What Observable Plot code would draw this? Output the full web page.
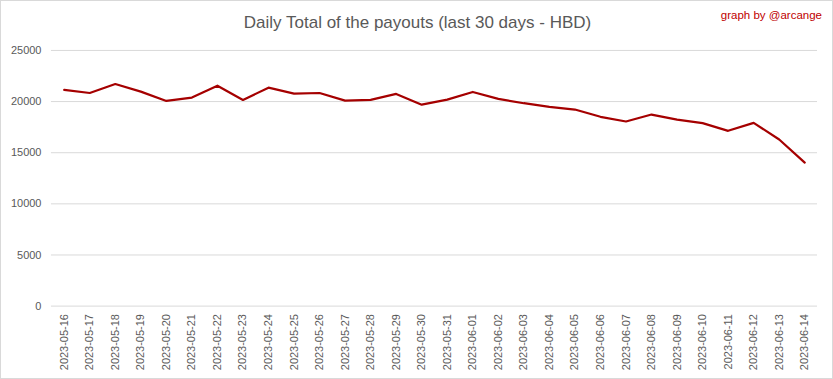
<!DOCTYPE html>
<html>
<head>
<meta charset="utf-8">
<script src="https://cdn.jsdelivr.net/npm/d3@7"></script>
<script src="https://cdn.jsdelivr.net/npm/@observablehq/plot@0.6"></script>
<style>
  html, body { margin: 0; padding: 0; background: #fff; }
  #wrap { position: relative; width: 833px; height: 379px; box-sizing: border-box; border: 1px solid #d9d9d9; overflow: hidden; }
  #title { position: absolute; left: 0; width: 833px; top: 12px; text-align: center; font-family: "Liberation Sans", sans-serif; font-size: 17px; color: #595959; }
  #credit { position: absolute; right: 10px; top: 8px; font-family: "Liberation Sans", sans-serif; font-size: 11.5px; color: #c00000; }
  #chart { position: absolute; left: -1px; top: -1px; }
</style>
</head>
<body>
<div id="wrap">
  <div id="chart"></div>
  <div id="title">Daily Total of the payouts (last 30 days - HBD)</div>
  <div id="credit">graph by @arcange</div>
</div>
<script>
const dates = [
  "2023-05-16","2023-05-17","2023-05-18","2023-05-19","2023-05-20","2023-05-21",
  "2023-05-22","2023-05-23","2023-05-24","2023-05-25","2023-05-26","2023-05-27",
  "2023-05-28","2023-05-29","2023-05-30","2023-05-31","2023-06-01","2023-06-02",
  "2023-06-03","2023-06-04","2023-06-05","2023-06-06","2023-06-07","2023-06-08",
  "2023-06-09","2023-06-10","2023-06-11","2023-06-12","2023-06-13","2023-06-14"
];
const payouts = [
  21140, 20840, 21720, 20970, 20060, 20390,
  21550, 20160, 21360, 20780, 20840, 20090,
  20160, 20750, 19700, 20190, 20940, 20260,
  19840, 19480, 19220, 18510, 18050, 18730,
  18240, 17890, 17140, 17920, 16290, 14030
];
const yTicks = [0, 5000, 10000, 15000, 20000, 25000];

const data = dates.map((d, i) => ({date: d, value: payouts[i]}));

const chart = Plot.plot({
  width: 833,
  height: 379,
  marginTop: 50,
  marginBottom: 73,
  marginLeft: 51,
  marginRight: 15,
  style: {fontFamily: "'Liberation Sans', sans-serif", fontSize: "11px", color: "#595959", background: "transparent"},
  x: {type: "point", domain: dates, padding: 0.5, round: false, label: null},
  y: {domain: [0, 25000], label: null},
  marks: [
    Plot.gridY(yTicks, {stroke: "#d9d9d9", strokeOpacity: 1, strokeWidth: 1}),
    Plot.axisY(yTicks, {tickSize: 0, tickPadding: 10, tickFormat: d => String(d), label: null, fill: "#595959"}),
    Plot.axisX({tickSize: 0, tickPadding: 8, tickRotate: -90, label: null, fill: "#595959"}),
    Plot.line(data, {x: "date", y: "value", stroke: "#a50000", strokeWidth: 2.2})
  ]
});
document.getElementById("chart").appendChild(chart);
</script>
</body>
</html>
